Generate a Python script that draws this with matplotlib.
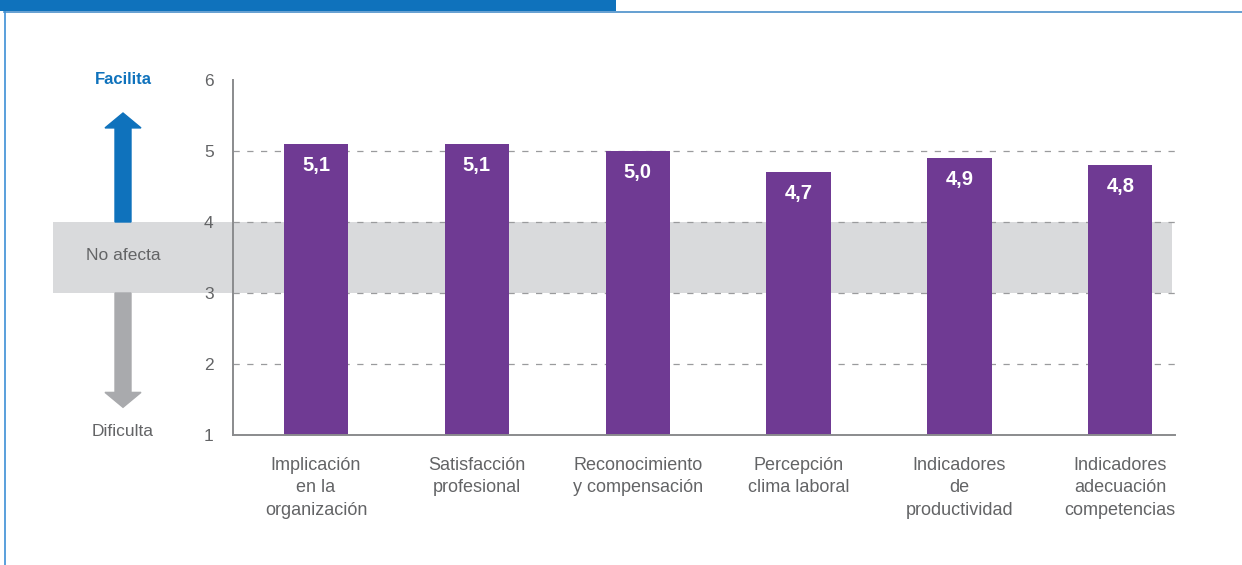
import numpy as np
import matplotlib.pyplot as plt
from matplotlib.patches import Rectangle, FancyArrow
from matplotlib.transforms import blended_transform_factory

plt.rcParams['font.family'] = ['Liberation Sans', 'DejaVu Sans']

categorias = ['Implicación\nen la\norganización', 'Satisfacción\nprofesional',
              'Reconocimiento\ny compensación', 'Percepción\nclima laboral',
              'Indicadores\nde\nproductividad', 'Indicadores\nadecuación\ncompetencias']
valores = [5.1, 5.1, 5.0, 4.7, 4.9, 4.8]
etiquetas = ['5,1', '5,1', '5,0', '4,7', '4,9', '4,8']
yticks = [1, 2, 3, 4, 5, 6]

morado = '#6f3a93'
azul = '#0f72bc'
gris_texto = '#636466'
gris_banda = '#d9dadc'
gris_flecha = '#a9aaad'

W, H = 1242, 565
fig = plt.figure(figsize=(W / 100, H / 100), dpi=100)
ax = fig.add_axes([233 / W, 1 - 435 / H, (1175 - 233) / W, (435 - 80) / H])

x = np.arange(len(categorias))
ax.bar(x, np.array(valores) - 1, bottom=1, width=0.4, color=morado, zorder=3)
for xi, v, t in zip(x, valores, etiquetas):
    ax.text(xi, v - 0.3, t, ha='center', va='center', color='white',
            fontsize=14.5, fontweight='bold', zorder=4)

ax.set_xlim(-0.516, 5.34)
ax.set_ylim(1, 6)
ax.set_yticks(yticks)
ax.set_xticks(x)
ax.set_xticklabels(categorias, linespacing=1.4)
ax.tick_params(axis='both', length=0, colors=gris_texto, labelsize=12.5)
ax.tick_params(axis='x', labelsize=13, pad=16)
ax.tick_params(axis='y', pad=14)

for s in ['top', 'right']:
    ax.spines[s].set_visible(False)
for s in ['left', 'bottom']:
    ax.spines[s].set_color('#8a8b8d')
    ax.spines[s].set_linewidth(1.4)
    ax.spines[s].set_zorder(5)

for g in [2, 3, 4, 5]:
    ax.axhline(g, color='#9a9b9d', lw=0.9, ls=(0, (5, 6)), zorder=2)

# banda "No afecta" que sale del eje hacia la izquierda
tr = blended_transform_factory(fig.transFigure, ax.transData)
ax.add_patch(Rectangle((53 / W, 3), (1172 - 53) / W, 1, transform=tr,
                       facecolor=gris_banda, edgecolor='none', clip_on=False, zorder=1))

xc = 123 / W
ax.add_patch(FancyArrow(xc, 4, 0, 1.535, width=16 / W, head_width=36 / W,
                        head_length=0.21, length_includes_head=True, transform=tr,
                        color=azul, clip_on=False, zorder=1))
ax.add_patch(FancyArrow(xc, 3, 0, -1.61, width=16 / W, head_width=36 / W,
                        head_length=0.21, length_includes_head=True, transform=tr,
                        color=gris_flecha, clip_on=False, zorder=1))

fig.text(xc, 1 - 80 / H, 'Facilita', ha='center', va='center', color=azul,
         fontsize=12, fontweight='bold')
fig.text(xc, 1 - 256 / H, 'No afecta', ha='center', va='center', color=gris_texto, fontsize=12.5)
fig.text(xc, 1 - 432 / H, 'Dificulta', ha='center', va='center', color=gris_texto, fontsize=12.5)

# cabecera y marco
fig.add_artist(Rectangle((0, 1 - 11 / H), 616 / W, 11 / H, transform=fig.transFigure,
                         facecolor=azul, edgecolor='none'))
fig.add_artist(plt.Line2D([4 / W, 1], [1 - 12 / H, 1 - 12 / H], transform=fig.transFigure,
                          color='#4a8fca', lw=1.2))
fig.add_artist(plt.Line2D([4.5 / W, 4.5 / W], [0, 1 - 12 / H], transform=fig.transFigure,
                          color='#3d8fd6', lw=1.2))

fig.savefig('out.png', dpi=100)
